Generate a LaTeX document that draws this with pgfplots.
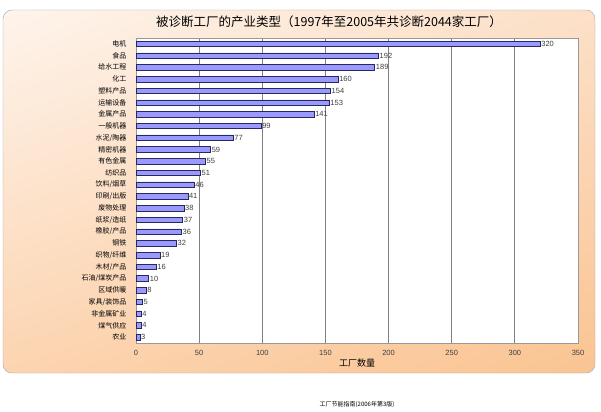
\documentclass[border=0pt]{standalone}
\usepackage{pgfplots}
\pgfplotsset{compat=1.18}
\usetikzlibrary{shadings}
\usepackage{fontspec}
\setmainfont{Liberation Sans}
\newfontfamily\cjk{Noto Sans CJK SC}
\definecolor{barfill}{RGB}{153,153,255}
\definecolor{baredge}{RGB}{40,40,90}
\definecolor{gridc}{RGB}{128,128,128}
\definecolor{bgtl}{RGB}{254,244,236}
\definecolor{bgtr}{RGB}{252,224,200}
\definecolor{bgbl}{RGB}{252,212,176}
\definecolor{bgbr}{RGB}{250,196,146}
\begin{document}
\begin{tikzpicture}[x=1pt,y=1pt]
\path (0,0) rectangle (601,411);
\shade[rounded corners=9pt, upper left=bgtl, upper right=bgtr, lower left=bgbl, lower right=bgbr]
  (3,38) rectangle (595,401);
\draw[rounded corners=9pt, draw=gray!70] (3,38) rectangle (595,401);
\node[font=\cjk\fontsize{12.5}{14}\selectfont] at (329,389) {被诊断工厂的产业类型（1997年至2005年共诊断2044家工厂）};
\begin{axis}[
    at={(136pt,68pt)}, anchor=south west,
    scale only axis, width=442pt, height=305pt,
    xbar, bar width=5.5pt,
    xmin=0, xmax=350,
    ymin=-0.5, ymax=25.5, y dir=reverse,
    xtick={0,50,...,350},
    ytick={0,...,25},
    yticklabels={电机,食品,给水工程,化工,塑料产品,运输设备,金属产品,一般机器,水泥/陶器,精密机器,有色金属,纺织品,饮料/烟草,印刷/出版,废物处理,纸浆/造纸,橡胶/产品,钢铁,织物/纤维,木材/产品,石油/煤炭产品,区域供暖,家具/装饰品,非金属矿业,煤气供应,农业},
    yticklabel style={font=\cjk\fontsize{7}{8}\selectfont, xshift=-6pt, text=black},
    xticklabel style={font=\fontsize{7.5}{9}\selectfont, text=black!75, yshift=-4pt},
    /pgf/number format/assume math mode=true,
    major tick length=0pt,
    xmajorgrids, grid style={gridc, line width=0.9pt},
    axis line style={gray!80},
    axis background/.style={fill=white},
    xlabel={\cjk 工厂数量},
    xlabel style={font=\fontsize{9}{10}\selectfont, yshift=4pt},
    nodes near coords,
    nodes near coords style={font=\fontsize{7.5}{9}\selectfont, text=black!75, anchor=west, inner sep=1pt},
    every node near coord/.append style={/pgf/number format/assume math mode=true},
]
\addplot[fill=barfill, draw=baredge, line width=0.5pt] coordinates {
(320,0) (192,1) (189,2) (160,3) (154,4) (153,5) (141,6) (99,7) (77,8) (59,9)
(55,10) (51,11) (46,12) (41,13) (38,14) (37,15) (36,16) (32,17) (19,18) (16,19)
(10,20) (8,21) (5,22) (4,23) (4,24) (3,25)};
\end{axis}
\node[font=\cjk\fontsize{6}{7}\selectfont] at (357,6) {工厂节能指南(2006年第3版)};
\end{tikzpicture}
\end{document}
